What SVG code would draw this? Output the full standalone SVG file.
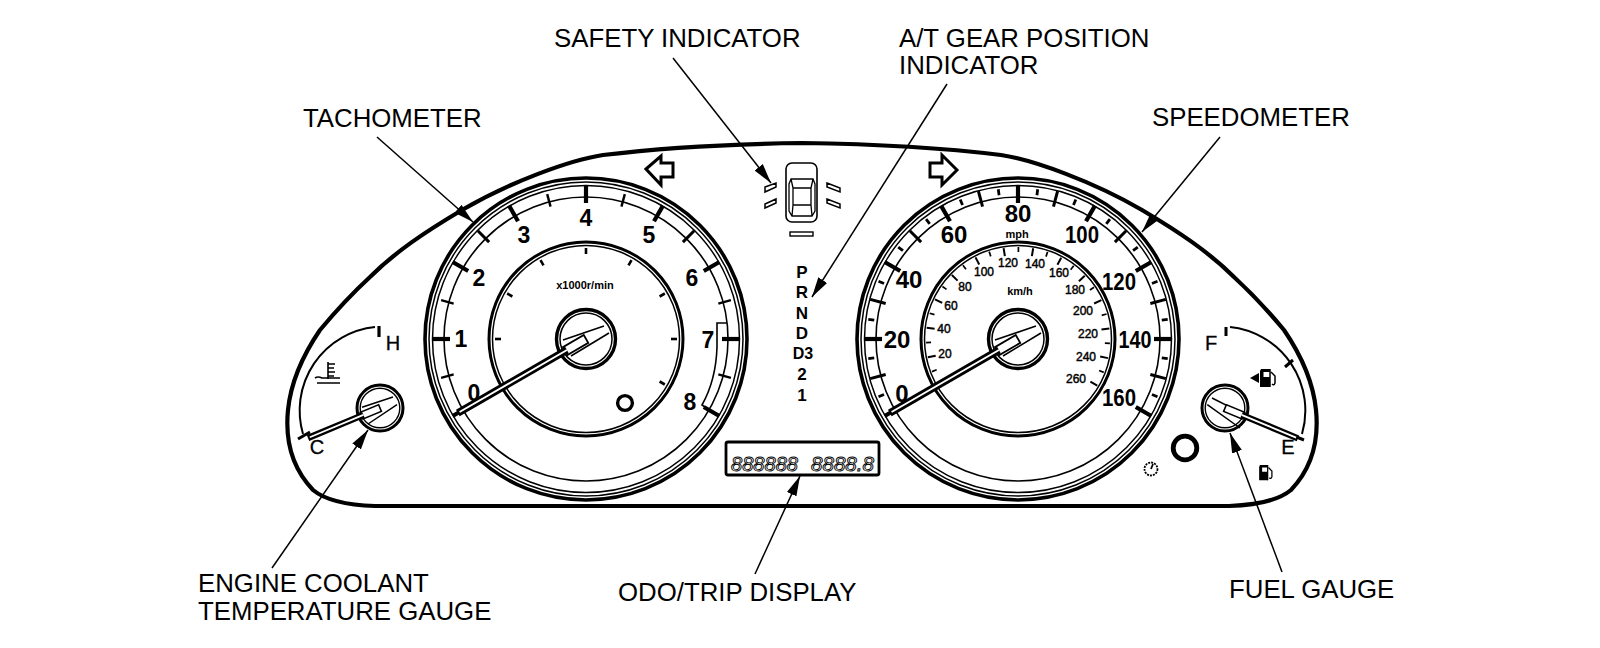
<svg xmlns="http://www.w3.org/2000/svg" width="1600" height="648" viewBox="0 0 1600 648">
<style>
text{font-family:"Liberation Sans",Arial,sans-serif;fill:#000}
.lb{font-size:25.8px}
.mj{font-size:23px;font-weight:bold;text-anchor:middle}
.sp{font-size:24px;font-weight:bold;text-anchor:middle}
.km{font-size:12px;text-anchor:middle;stroke:#000;stroke-width:.45}
.sm{font-size:11px;font-weight:bold;text-anchor:middle}
.ge{font-size:17px;font-weight:bold;text-anchor:middle}
.gg{font-size:20px;text-anchor:middle;stroke:#000;stroke-width:.3}
.lcd{font-size:20px;font-style:italic;fill:none;stroke:#000;stroke-width:.9}
.o{fill:none;stroke:#000}
.w{fill:#fff;stroke:#000}
.k{stroke:#000;fill:none}
.leader{stroke:#000;stroke-width:1.5;fill:none;marker-end:url(#ah)}
</style>
<defs>
<marker id="ah" markerUnits="userSpaceOnUse" markerWidth="22" markerHeight="12" refX="20" refY="6" orient="auto"><path d="M0,.8 L20,6 L0,11.2z" fill="#000"/></marker>
<line id="tMajor" x1="0" y1="-136" x2="0" y2="-154" stroke="#000" stroke-width="4.2"/>
<line id="tMid" x1="0" y1="-137" x2="0" y2="-153" stroke="#000" stroke-width="3"/>
<line id="tMin" x1="0" y1="-137" x2="0" y2="-150" stroke="#000" stroke-width="2.4"/>
<line id="tSmall" x1="0" y1="-145" x2="0" y2="-151" stroke="#000" stroke-width="2.8"/>
<line id="iTick" x1="0" y1="-85" x2="0" y2="-91" stroke="#000" stroke-width="2.6"/>
<line id="kMaj" x1="0" y1="-84" x2="0" y2="-92" stroke="#000" stroke-width="2"/>
<line id="kMin" x1="0" y1="-87" x2="0" y2="-92" stroke="#000" stroke-width="1.7"/>
<g id="dial">
<circle r="161" class="o" stroke-width="3.6"/><circle r="157" class="o" stroke-width="1.5"/><circle r="153.5" class="o" stroke-width="1.5"/>
<circle r="142" class="o" stroke-width="1.6"/>
<circle r="97" class="o" stroke-width="3"/><circle r="93.5" class="o" stroke-width="1.5"/>
</g>
<g id="bigNeedle">
<line x1="-148" y1="0" x2="-22" y2="0" stroke="#000" stroke-width="7.4"/>
<line x1="-146" y1="0" x2="-22" y2="0" stroke="#fff" stroke-width="2"/>
</g>
<g id="hub">
<circle r="29.5" class="o" stroke-width="3.4"/><circle r="26" class="o" stroke-width="1.5"/>
<path d="M-23,1 L18,-13 M-15,17 L23,-6" class="k" stroke-width="1.6"/>
<g transform="rotate(-30)"><rect x="-24" y="-4.5" width="24" height="9" class="w" stroke-width="1.8"/></g>
</g>
<g id="pump"><path d="M0,0 H9 V3 H2.5 V8 H9 V18 H-1 V2z" fill="#000"/><path d="M9,0 V18" class="k" stroke-width="1.5"/><path d="M10,3 L14,7 V14 Q13,17 11,15" class="k" stroke-width="1.5"/></g>
</defs>

<rect width="1600" height="648" fill="#fff"/>

<g id="cluster-outline">
<path class="o" stroke-width="4.2" d="M802,143 C730,144 660,148 603,155 C570,160 510,182 462,210 C425,232 395,252 370,277 C345,300 330,318 320,330 C305,352 291,380 288,410 C285,440 292,468 313,490 C325,500 345,505 375,506 L1229,506 C1259,505 1279,500 1291,490 C1312,468 1319,440 1316,410 C1313,380 1299,352 1284,330 C1274,318 1259,300 1234,277 C1209,252 1179,232 1142,210 C1094,182 1034,160 1001,155 C944,148 874,144 802,143Z"/>
</g>

<g id="tachometer">
<g transform="translate(586,339)">
<use href="#dial"/>
<g>
<use href="#tMajor" transform="rotate(-120)"/><use href="#tMin" transform="rotate(-105)"/><use href="#tMajor" transform="rotate(-90)"/><use href="#tMin" transform="rotate(-75)"/><use href="#tMajor" transform="rotate(-60)"/><use href="#tMid" transform="rotate(-45)"/><use href="#tMajor" transform="rotate(-30)"/><use href="#tMin" transform="rotate(-15)"/><use href="#tMajor" transform="rotate(0)"/><use href="#tMin" transform="rotate(15)"/><use href="#tMajor" transform="rotate(30)"/><use href="#tMid" transform="rotate(45)"/><use href="#tMajor" transform="rotate(60)"/><use href="#tMin" transform="rotate(75)"/><use href="#tMajor" transform="rotate(90)"/><use href="#tMin" transform="rotate(105)"/><use href="#tMajor" transform="rotate(120)"/>
</g>
<g>
<use href="#iTick" transform="rotate(-90)"/><use href="#iTick" transform="rotate(-60)"/><use href="#iTick" transform="rotate(-30)"/><use href="#iTick" transform="rotate(0)"/><use href="#iTick" transform="rotate(30)"/><use href="#iTick" transform="rotate(60)"/><use href="#iTick" transform="rotate(90)"/><use href="#iTick" transform="rotate(120)"/>
</g>
<use href="#hub"/>
<use href="#bigNeedle" transform="rotate(-30)"/>
</g>
<path class="k" stroke-width="1.6" d="M727,323 H717 V347 Q716,380 702,405 L712,412"/>
<text class="mj" x="474" y="401">0</text><text class="mj" x="461" y="347">1</text><text class="mj" x="479" y="286">2</text><text class="mj" x="524" y="243">3</text><text class="mj" x="586" y="226">4</text><text class="mj" x="649" y="243">5</text><text class="mj" x="692" y="286">6</text><text class="mj" x="708" y="348">7</text><text class="mj" x="690" y="410">8</text>
<text class="sm" x="585" y="289">x1000r/min</text>
<circle cx="625" cy="403" r="7.4" class="o" stroke-width="3.4"/>
</g>

<g id="speedometer">
<g transform="translate(1018,339)">
<use href="#dial"/>
<g>
<use href="#tMajor" transform="rotate(-120)"/><use href="#tSmall" transform="rotate(-112.5)"/><use href="#tMid" transform="rotate(-105)"/><use href="#tSmall" transform="rotate(-97.5)"/><use href="#tMajor" transform="rotate(-90)"/><use href="#tSmall" transform="rotate(-82.5)"/><use href="#tMid" transform="rotate(-75)"/><use href="#tSmall" transform="rotate(-67.5)"/><use href="#tMajor" transform="rotate(-60)"/><use href="#tSmall" transform="rotate(-52.5)"/><use href="#tMid" transform="rotate(-45)"/><use href="#tSmall" transform="rotate(-37.5)"/><use href="#tMajor" transform="rotate(-30)"/><use href="#tSmall" transform="rotate(-22.5)"/><use href="#tMid" transform="rotate(-15)"/><use href="#tSmall" transform="rotate(-7.5)"/><use href="#tMajor" transform="rotate(0)"/><use href="#tSmall" transform="rotate(7.5)"/><use href="#tMid" transform="rotate(15)"/><use href="#tSmall" transform="rotate(22.5)"/><use href="#tMajor" transform="rotate(30)"/><use href="#tSmall" transform="rotate(37.5)"/><use href="#tMid" transform="rotate(45)"/><use href="#tSmall" transform="rotate(52.5)"/><use href="#tMajor" transform="rotate(60)"/><use href="#tSmall" transform="rotate(67.5)"/><use href="#tMid" transform="rotate(75)"/><use href="#tSmall" transform="rotate(82.5)"/><use href="#tMajor" transform="rotate(90)"/><use href="#tSmall" transform="rotate(97.5)"/><use href="#tMid" transform="rotate(105)"/><use href="#tSmall" transform="rotate(112.5)"/><use href="#tMajor" transform="rotate(120)"/>
</g>
<g>
<use href="#kMaj" transform="rotate(-120)"/><use href="#kMin" transform="rotate(-110.75)"/><use href="#kMaj" transform="rotate(-101.5)"/><use href="#kMin" transform="rotate(-92.25)"/><use href="#kMaj" transform="rotate(-83)"/><use href="#kMin" transform="rotate(-73.75)"/><use href="#kMaj" transform="rotate(-64.5)"/><use href="#kMin" transform="rotate(-55.25)"/><use href="#kMaj" transform="rotate(-46)"/><use href="#kMin" transform="rotate(-36.75)"/><use href="#kMaj" transform="rotate(-27.5)"/><use href="#kMin" transform="rotate(-18.25)"/><use href="#kMaj" transform="rotate(-9)"/><use href="#kMin" transform="rotate(.25)"/><use href="#kMaj" transform="rotate(9.5)"/><use href="#kMin" transform="rotate(18.75)"/><use href="#kMaj" transform="rotate(28)"/><use href="#kMin" transform="rotate(37.25)"/><use href="#kMaj" transform="rotate(46.5)"/><use href="#kMin" transform="rotate(55.75)"/><use href="#kMaj" transform="rotate(65)"/><use href="#kMin" transform="rotate(74.25)"/><use href="#kMaj" transform="rotate(83.5)"/><use href="#kMin" transform="rotate(92.75)"/><use href="#kMaj" transform="rotate(102)"/><use href="#kMin" transform="rotate(111.25)"/><use href="#kMaj" transform="rotate(120.5)"/>
</g>
<use href="#hub"/>
<use href="#bigNeedle" transform="rotate(-30)"/>
</g>
<text class="sp" x="902" y="402">0</text><text class="sp" x="897" y="348">20</text><text class="sp" x="909" y="288">40</text><text class="sp" x="954" y="243">60</text><text class="sp" x="1018" y="222">80</text><text class="sp" x="1082" y="243" textLength="34" lengthAdjust="spacingAndGlyphs">100</text><text class="sp" x="1119" y="290" textLength="34" lengthAdjust="spacingAndGlyphs">120</text><text class="sp" x="1135" y="348" textLength="33" lengthAdjust="spacingAndGlyphs">140</text><text class="sp" x="1119" y="406" textLength="34" lengthAdjust="spacingAndGlyphs">160</text>
<text class="sm" x="1017" y="238">mph</text>
<text class="km" x="945" y="358">20</text><text class="km" x="944" y="333">40</text><text class="km" x="951" y="310">60</text><text class="km" x="965" y="291">80</text><text class="km" x="984" y="276">100</text><text class="km" x="1008" y="267">120</text><text class="km" x="1035" y="268">140</text><text class="km" x="1059" y="277">160</text><text class="km" x="1075" y="294">180</text><text class="km" x="1083" y="315">200</text><text class="km" x="1088" y="338">220</text><text class="km" x="1086" y="361">240</text><text class="km" x="1076" y="383">260</text>
<text class="sm" x="1020" y="295" font-weight="normal">km/h</text>
</g>

<g id="coolant-gauge">
<path class="k" stroke-width="2" d="M303,434 A84,84 0 0 1 375,327"/>
<line x1="379" y1="326" x2="379" y2="337" stroke="#000" stroke-width="3.2"/>
<path class="k" stroke-width="3" d="M298,439 L310,432"/>
<g transform="translate(380,408)">
<circle r="23" class="o" stroke-width="3"/><circle r="19.8" class="o" stroke-width="1.4"/>
<path d="M-18,-.7 L13,-11 M-12,16 L17,-3.3" class="k" stroke-width="1.5"/>
<g transform="rotate(-22.6)">
<rect x="-20" y="-3.6" width="20" height="7.2" class="w" stroke-width="1.6"/>
<line x1="-78" y1="0" x2="-18" y2="0" stroke="#000" stroke-width="6.4"/>
<line x1="-76" y1="0" x2="-18" y2="0" stroke="#fff" stroke-width="1.8"/>
</g>
</g>
<text class="gg" x="393" y="350">H</text><text class="gg" x="317" y="454">C</text>
<path class="k" stroke-width="1.6" d="M328,362 V379 M328,364 H335 M328,368 H334 M328,372 H335 M328,376 H334 M315,378 Q318,376 322,378 H340 M317,383 H340"/>
</g>

<g id="fuel-gauge">
<path class="k" stroke-width="2" d="M1230,327 A84,84 0 0 1 1302,434"/>
<path class="k" stroke-width="3" d="M1226,327 V336 M1285,367 L1293,360 M1294,436 L1304,440"/>
<g transform="translate(1225,408)">
<circle r="23" class="o" stroke-width="3"/><circle r="19.8" class="o" stroke-width="1.4"/>
<path d="M-13,-10 L20,6.7 M-17.7,-3.3 L15,20" class="k" stroke-width="1.5"/>
<g transform="rotate(22.6)">
<rect x="0" y="-3.6" width="20" height="7.2" class="w" stroke-width="1.6"/>
<line x1="18" y1="0" x2="79" y2="0" stroke="#000" stroke-width="6.4"/>
<line x1="18" y1="0" x2="77" y2="0" stroke="#fff" stroke-width="1.8"/>
</g>
</g>
<text class="gg" x="1211" y="350">F</text><text class="gg" x="1288" y="454">E</text>
<use href="#pump" transform="translate(1261,369)"/><path d="M1250,378 L1259,373 V383z" fill="#000"/>
<use href="#pump" transform="translate(1260,465) scale(.85)"/>
</g>

<g id="turn-left"><path class="w" stroke-width="3" d="M646,169 L661,156 V163 H673 V177 H661 V185z"/></g>
<g id="turn-right"><path class="w" stroke-width="3" d="M957,170 L942,155 V163 H930 V177 H942 V185z"/></g>

<g id="safety-indicator">
<rect x="786" y="163" width="31" height="59" rx="6" class="o" stroke-width="1.6"/>
<path class="k" stroke-width="1.3" d="M791,179 H813 L815,184 V211 L812,216 H792 L789,211 V184z M793,188 H811 V205 H793z M791,179 L793,188 M813,179 L811,188 M792,216 L793,205 M812,216 L811,205"/>
<path class="k" stroke-width="1.5" d="M765,187 L776,183 V187 L765,192z M765,204 L776,199 V203 L765,208z M827,183 L840,188 V192 L827,187z M827,199 L840,204 V208 L827,203z"/>
<rect x="790" y="232" width="23" height="4" class="o" stroke-width="1.4"/>
</g>

<g id="gear-indicator">
<text class="ge" x="802" y="278">P</text><text class="ge" x="802" y="298">R</text><text class="ge" x="802" y="319">N</text><text class="ge" x="802" y="339">D</text><text class="ge" x="803" y="359" style="font-size:16px">D3</text><text class="ge" x="802" y="380">2</text><text class="ge" x="802" y="401">1</text>
</g>

<g id="odo-trip-display">
<rect x="726" y="442" width="153" height="33" rx="2" class="o" stroke-width="2.8"/>
<text class="lcd" x="731" y="471" textLength="67" lengthAdjust="spacingAndGlyphs">888888</text>
<text class="lcd" x="811" y="471" textLength="63" lengthAdjust="spacingAndGlyphs">8888.8</text>
</g>

<g id="misc-indicators">
<circle cx="1185" cy="448" r="11.8" class="o" stroke-width="4.8"/>
<circle cx="1151" cy="469" r="6.5" class="o" stroke-width="1.8" stroke-dasharray="2 1"/>
<path d="M1151,469 L1153,464" class="k" stroke-width="1.8"/>
</g>

<g id="connectors">
<line class="leader" x1="673" y1="58" x2="771" y2="183"/>
<line class="leader" x1="947" y1="84" x2="812" y2="297"/>
<line class="leader" x1="377" y1="137" x2="473" y2="222"/>
<line class="leader" x1="1220" y1="137" x2="1142" y2="232"/>
<line class="leader" x1="272" y1="568" x2="368" y2="430"/>
<line class="leader" x1="755" y1="574" x2="800" y2="476"/>
<line class="leader" x1="1282" y1="572" x2="1230" y2="433"/>
</g>

<g id="labels">
<text class="lb" x="554" y="47">SAFETY INDICATOR</text>
<text class="lb" x="899" y="47">A/T GEAR POSITION</text>
<text class="lb" x="899" y="74">INDICATOR</text>
<text class="lb" x="303" y="127">TACHOMETER</text>
<text class="lb" x="1152" y="126">SPEEDOMETER</text>
<text class="lb" x="198" y="592">ENGINE COOLANT</text>
<text class="lb" x="198" y="619.5">TEMPERATURE GAUGE</text>
<text class="lb" x="618" y="601">ODO/TRIP DISPLAY</text>
<text class="lb" x="1229" y="598">FUEL GAUGE</text>
</g>
</svg>
